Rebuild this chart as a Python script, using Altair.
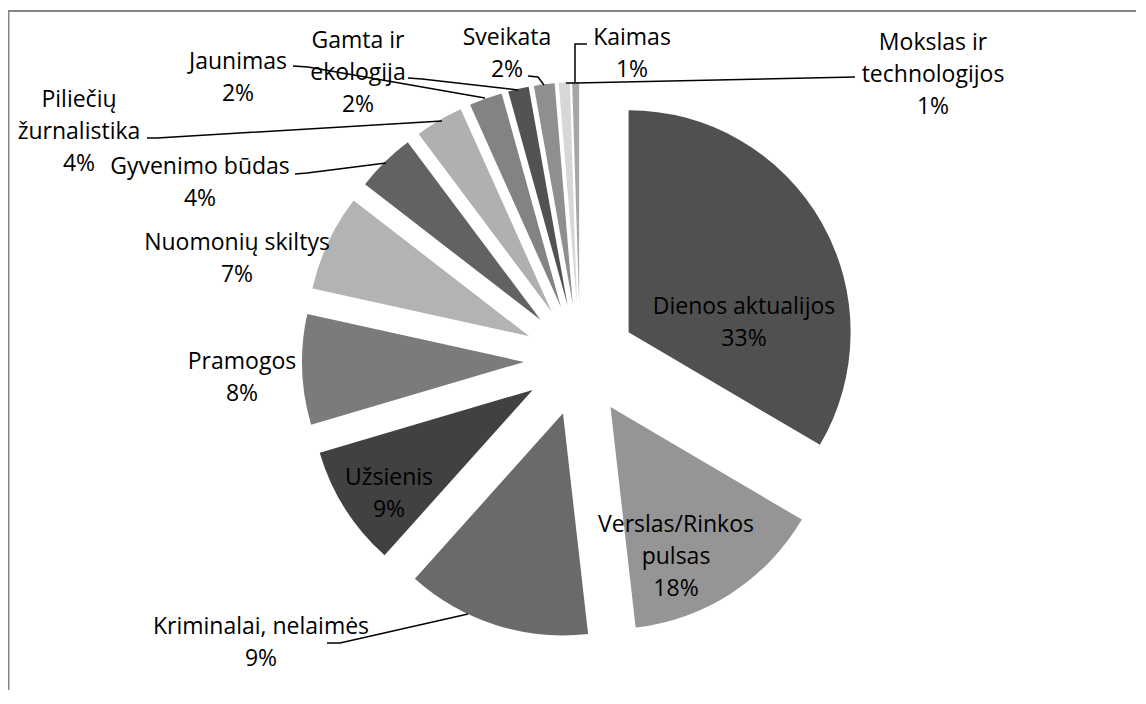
import altair as alt
import pandas as pd

# ---------------- data ----------------
categories = [
    "Dienos aktualijos", "Verslas/Rinkos pulsas", "Kriminalai, nelaimės",
    "Užsienis", "Pramogos", "Nuomonių skiltys", "Gyvenimo būdas",
    "Piliečių žurnalistika", "Jaunimas", "Gamta ir ekologija", "Sveikata",
    "Kaimas", "Mokslas ir technologijos",
]
# size of each slice as drawn (share of the circle, %)
shares = [33.4, 14.7, 13.4, 8.8, 8.0, 7.0, 4.3, 3.5, 2.4, 1.5, 1.5, 0.8, 0.5]
# percentage texts as printed on the chart
pct_labels = ["33%", "18%", "9%", "9%", "8%", "7%", "4%", "4%", "2%", "2%", "2%", "1%", "1%"]
# category names as wrapped on the chart
label_names = [
    "Dienos aktualijos", "Verslas/Rinkos\npulsas", "Kriminalai, nelaimės",
    "Užsienis", "Pramogos", "Nuomonių skiltys", "Gyvenimo būdas",
    "Piliečių\nžurnalistika", "Jaunimas", "Gamta ir\nekologija", "Sveikata",
    "Kaimas", "Mokslas ir\ntechnologijos",
]

# ---------------- styles / layout ----------------
colors = ["#505050", "#959595", "#6a6a6a", "#414141", "#7b7b7b", "#b3b3b3",
          "#626262", "#b0b0b0", "#838383", "#525252", "#8f8f8f", "#d7d7d7", "#a6a6a6"]

W, H = 1128, 682
CX, CY = 572, 352          # pie centre inside the chart (px)
R, EXPLODE = 222, 56       # radius and explosion distance (px)

# label anchors (centre of the first text line), relative to the pie centre (px)
label_pos = [(164, -53), (96, 165), (-319, 267), (-191, 118), (-338, 2),
             (-343, -117), (-380, -193), (-501, -260), (-342, -298),
             (-222, -319), (-73, -322), (52, -322), (353, -317)]

# leader lines, relative to the pie centre (px)
leaders = {
    "Kriminalai, nelaimės": [(-112, 254), (-240, 283), (-253, 283)],
    "Gyvenimo būdas": [(-194, -197), (-273, -187), (-285, -186)],
    "Piliečių žurnalistika": [(-138, -239), (-423, -222), (-433, -222)],
    "Jaunimas": [(-95, -262), (-272, -293), (-287, -294)],
    "Gamta ir ekologija": [(-62, -270), (-158, -281), (-172, -282)],
    "Sveikata": [(-36, -275), (-42, -283), (-52, -284)],
    "Kaimas": [(-14, -277), (-5, -277), (-5, -316), (7, -316)],
    "Mokslas ir technologijos": [(-4, -277), (275, -283)],
}

df = pd.DataFrame({
    "order": list(range(len(categories))),
    "category": categories,
    "share": shares,
    "label": [f"{n}\n{p}" for n, p in zip(label_names, pct_labels)],
    "lx": [p[0] for p in label_pos],
    "ly": [p[1] for p in label_pos],
})

lead_rows = []
for name, pts in leaders.items():
    for i, (px, py) in enumerate(pts):
        lead_rows.append({"id": name, "idx": i, "px": px, "py": py})
lead_df = pd.DataFrame(lead_rows)

xs = alt.Scale(domain=[-CX, W - CX], nice=False, zero=False)
ys = alt.Scale(domain=[-CY, H - CY], nice=False, zero=False, reverse=True)

arcs = (
    alt.Chart(df)
    .transform_window(cum="sum(share)", sort=[alt.SortField("order")], frame=[None, 0])
    .transform_joinaggregate(total="sum(share)")
    .transform_calculate(
        tend="datum.cum / datum.total * 2 * PI",
        tstart="(datum.cum - datum.share) / datum.total * 2 * PI",
    )
    .transform_calculate(
        cx=f"{EXPLODE} * sin((datum.tstart + datum.tend) / 2)",
        cy=f"-{EXPLODE} * cos((datum.tstart + datum.tend) / 2)",
    )
    .mark_arc(radius=R, stroke=None)
    .encode(
        x=alt.X("cx:Q", scale=xs, axis=None),
        y=alt.Y("cy:Q", scale=ys, axis=None),
        theta=alt.Theta("tstart:Q", scale=None, stack=None),
        theta2="tend:Q",
        color=alt.Color("category:N", scale=alt.Scale(domain=categories, range=colors), legend=None),
    )
)

lines = (
    alt.Chart(lead_df)
    .mark_line(color="black", strokeWidth=1.5)
    .encode(
        x=alt.X("px:Q", scale=xs, axis=None),
        y=alt.Y("py:Q", scale=ys, axis=None),
        detail="id:N",
        order="idx:Q",
    )
)

texts = (
    alt.Chart(df)
    .mark_text(font="Open Sans", fontSize=23, lineBreak="\n", lineHeight=32,
               align="center", baseline="middle", color="black")
    .encode(
        x=alt.X("lx:Q", scale=xs, axis=None),
        y=alt.Y("ly:Q", scale=ys, axis=None),
        text="label:N",
    )
)

frame_df = pd.DataFrame({"a": [0]})
border_top = alt.Chart(frame_df).mark_rule(color="#868686", strokeWidth=2).encode(
    x=alt.value(0), x2=alt.value(W), y=alt.value(3))
border_left = alt.Chart(frame_df).mark_rule(color="#868686", strokeWidth=2).encode(
    x=alt.value(0.5), y=alt.value(3), y2=alt.value(H))

chart = (
    alt.layer(arcs, lines, texts, border_top, border_left)
    .properties(width=W, height=H, padding=0, autosize="none", background="white")
    .configure_view(stroke=None)
)

chart.save("out.html", embed_options={"renderer": "svg", "actions": False})
